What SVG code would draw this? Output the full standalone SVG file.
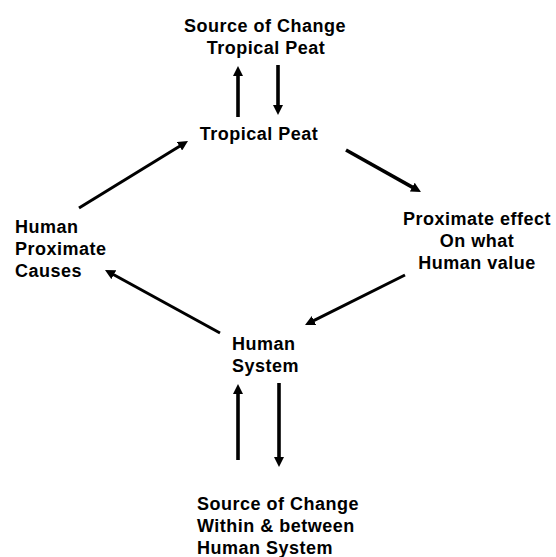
<svg xmlns="http://www.w3.org/2000/svg" width="556" height="557" viewBox="0 0 556 557">
<defs>
<marker id="ah" markerUnits="userSpaceOnUse" markerWidth="11" markerHeight="10" refX="2" refY="5" orient="auto">
<path d="M0,0 L10,5 L0,10 z" fill="#000"/>
</marker>
<style>
text{font-family:"Liberation Sans",Arial,Helvetica,sans-serif;font-weight:bold;font-size:18px;letter-spacing:0.5px;fill:#000}
.c{text-anchor:middle}
.e line{stroke:#000;stroke-width:3;marker-end:url(#ah)}
.e line.v{stroke-width:3.6}
</style>
</defs>
<rect width="556" height="557" fill="#fff"/>
<g id="connectors" class="e">
<line class="v" x1="238" y1="117" x2="238" y2="74"/>
<line class="v" x1="278" y1="65" x2="278" y2="107"/>
<line x1="79" y1="208" x2="181.2" y2="145.2"/>
<line class="v" x1="346" y1="150" x2="414" y2="188.1"/>
<line x1="405" y1="275" x2="312.2" y2="321.4"/>
<line x1="220" y1="333" x2="112" y2="273.8"/>
<line class="v" x1="238" y1="460" x2="238" y2="392"/>
<line class="v" x1="279" y1="383" x2="279" y2="459"/>
</g>
<g id="source-tropical">
<text class="c" x="265" y="32">Source of Change</text>
<text class="c" x="266" y="54">Tropical Peat</text>
</g>
<g id="tropical-peat">
<text class="c" x="259" y="140">Tropical Peat</text>
</g>
<g id="proximate-effect">
<text class="c" x="477" y="225">Proximate effect</text>
<text class="c" x="477" y="247">On what</text>
<text class="c" x="477" y="269">Human value</text>
</g>
<g id="human-causes">
<text x="15" y="233">Human</text>
<text x="15" y="255">Proximate</text>
<text x="15" y="277">Causes</text>
</g>
<g id="human-system">
<text x="232" y="350">Human</text>
<text x="232" y="372">System</text>
</g>
<g id="source-human">
<text x="197" y="510">Source of Change</text>
<text x="197" y="532">Within &amp; between</text>
<text x="197" y="554">Human System</text>
</g>
</svg>
